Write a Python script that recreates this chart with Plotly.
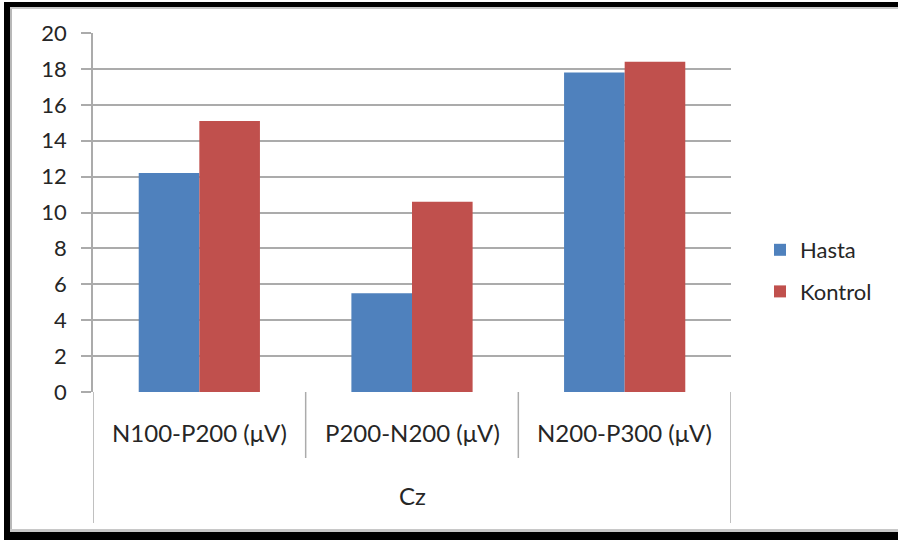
import plotly.graph_objects as go

# Amplitude data (µV) recorded at Cz
categories = ["N100-P200 (μV)", "P200-N200 (μV)", "N200-P300 (μV)"]
group_label = "Cz"
hasta = [12.2, 5.5, 17.8]
kontrol = [15.1, 10.6, 18.4]
y_ticks = list(range(0, 21, 2))

W, H = 898, 540
L, R, T, B = 93, 167, 33, 148          # plot area: x 93..731, y 33..392
PW, PH = W - L - R, H - T - B

def px(x):
    return (x - L) / PW

def py(y):
    return (H - B - y) / PH

FONT = "Lato"
FS = 22
CAT_FS = 24
TXT = "#262626"
GRID = "#ababab"

fig = go.Figure()
fig.add_trace(go.Bar(x=categories, y=hasta, name="Hasta",
                     marker=dict(color="#4f81bd", line=dict(width=0)),
                     legendgroup="a"))
fig.add_trace(go.Bar(x=categories, y=kontrol, name="Kontrol",
                     marker=dict(color="#c0504d", line=dict(width=0)),
                     legendgroup="b"))

shapes = []
# category separators (first level) and outer edges (second level)
for i, xb in enumerate([-0.5, 0.5, 1.5, 2.5]):
    bottom = 523 if i in (0, 3) else 458
    shapes.append(dict(type="line", xref="x", yref="paper",
                       x0=xb, x1=xb, y0=0, y1=py(bottom),
                       line=dict(color=GRID, width=1.5), layer="below"))

# frame around the whole chart
def rect(x0, y0, x1, y1, color):
    shapes.append(dict(type="rect", xref="paper", yref="paper",
                       x0=px(x0), x1=px(x1), y0=py(y1), y1=py(y0),
                       fillcolor=color, line=dict(width=0), layer="above"))

rect(890, 9, 898, 529, "#ffffff")
rect(4, 2, 10, 540, "#000000")
rect(4, 2, 898, 7, "#000000")
rect(4, 532, 898, 540, "#000000")
rect(10, 7, 12, 532, "#b8b8b8")
rect(10, 7, 898, 9, "#c8c8c8")
rect(10, 529, 898, 532, "#c8c8c8")

annotations = []
for c in categories:
    annotations.append(dict(x=c, y=py(432), xref="x", yref="paper",
                            text=c, showarrow=False,
                            font=dict(family=FONT, size=CAT_FS, color=TXT),
                            xanchor="center", yanchor="middle"))
annotations.append(dict(x=categories[1], y=py(495), xref="x", yref="paper",
                        text=group_label, showarrow=False,
                        font=dict(family=FONT, size=CAT_FS, color=TXT),
                        xanchor="center", yanchor="middle"))

fig.update_layout(
    width=W, height=H,
    margin=dict(l=L, r=R, t=T, b=B, pad=0),
    paper_bgcolor="white", plot_bgcolor="white",
    barmode="group", bargap=0.43, bargroupgap=0,
    font=dict(family=FONT, size=FS, color=TXT),
    showlegend=True,
    legend=dict(x=px(760), y=py(229), xanchor="left", yanchor="top",
                font=dict(family=FONT, size=FS, color=TXT),
                tracegroupgap=10, itemwidth=30,
                bgcolor="rgba(0,0,0,0)"),
    shapes=shapes,
    annotations=annotations,
    xaxis=dict(showticklabels=False, showgrid=False, zeroline=False,
               showline=False, ticks="", range=[-0.5, 2.5]),
    yaxis=dict(range=[0, 20], tickvals=y_ticks, showgrid=True,
               gridcolor=GRID, gridwidth=1.5, zeroline=False,
               showline=True, linecolor=GRID, linewidth=1.5,
               ticks="outside", ticklen=10, tickcolor=GRID, tickwidth=1.5,
               ticklabelstandoff=10,
               tickfont=dict(family=FONT, size=FS, color=TXT)),
)

fig.write_html("out.html")
